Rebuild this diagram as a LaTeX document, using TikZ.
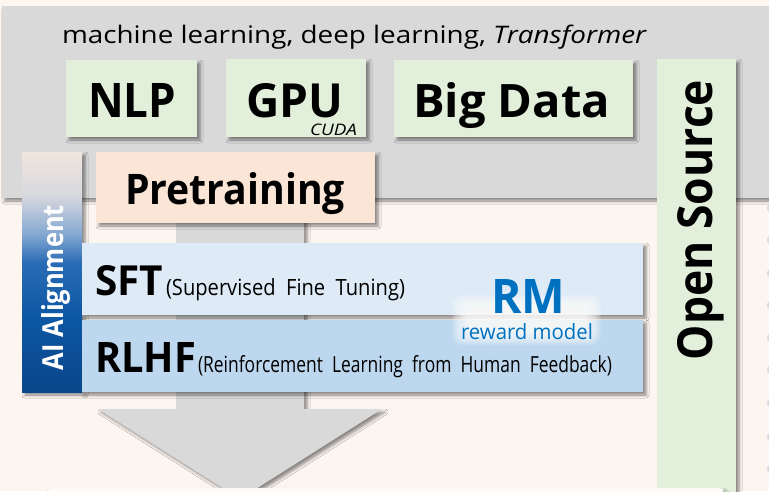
\documentclass[tikz,border=0pt]{standalone}
\usepackage{fontspec}
\setmainfont{Open Sans}
\usepackage{graphicx}
\usetikzlibrary{shadows.blur}

\definecolor{bgcream}{HTML}{FCF5F0}
\definecolor{bandgray}{HTML}{D9D9D9}
\definecolor{techgreen}{HTML}{E2EFDA}
\definecolor{prepeach}{HTML}{FBE5D6}
\definecolor{sftblue}{HTML}{DEEBF7}
\definecolor{rlhfblue}{HTML}{BDD7EE}
\definecolor{rmblue}{HTML}{0070C0}
\definecolor{basewhite}{HTML}{FEFBF9}
\definecolor{dotblue}{HTML}{D3DCE8}
% colours of the alignment bar, bottom to top
\definecolor{alA}{HTML}{0A468A}
\definecolor{alB}{HTML}{0C56A2}
\definecolor{alC}{HTML}{2A6CB6}
\definecolor{alD}{HTML}{86A9D2}
\definecolor{alE}{HTML}{D8D8DE}
\definecolor{alF}{HTML}{F0E5DE}

\pgfdeclareverticalshading{alignshade}{100bp}{%
  color(0bp)=(alA); color(25bp)=(alA); color(40bp)=(alB);
  color(52bp)=(alC); color(58bp)=(alD); color(66bp)=(alE);
  color(75bp)=(alF); color(100bp)=(alF)}

% scale a text to a given width and height (in pt)
\newcommand\fitbox[3]{\resizebox{#1pt}{#2pt}{#3}}

\tikzset{
  softshadow/.style={blur shadow={shadow xshift=3pt, shadow yshift=-3pt,
      shadow blur radius=3pt, shadow opacity=45}},
  panel/.style={rectangle, inner sep=0pt, outer sep=0pt, anchor=north west, softshadow},
  greenpanel/.style={panel, fill=techgreen},
  lbl/.style={inner sep=0pt, outer sep=0pt, anchor=base west},
}

\begin{document}
\begin{tikzpicture}[x=1pt, y=-1pt]
\clip (0,0) rectangle (769,491);
\fill[bgcream] (0,0) rectangle (769,491);

% faint marks at the right edge
\foreach \yy in {208,240,273,305,338,370,403,437,469}
  \fill[dotblue] (770,\yy) ellipse (3 and 4);

% grey foundation band
\node[panel, fill=bandgray, minimum width=790pt, minimum height=192pt] (band) at (2,6) {};

% big downward arrow
\path[fill=bandgray, softshadow]
  (176,200) -- (304,200) -- (304,409) -- (382,409) -- (240,499)
  -- (98,409) -- (176,409) -- cycle;

% open source column
\node[greenpanel, minimum width=79pt, minimum height=450pt] (osbox) at (657,59) {};

% technology boxes
\node[greenpanel, minimum width=131pt, minimum height=77pt] (nlpbox) at (66,60) {};
\node[greenpanel, minimum width=140pt, minimum height=78pt] (gpubox) at (226,59) {};
\node[greenpanel, minimum width=239pt, minimum height=77pt] (bigbox) at (394,60) {};

% pretraining
\node[panel, fill=prepeach, minimum width=279pt, minimum height=71pt] (prebox) at (96,152) {};

% AI alignment bar
\node[panel, shading=alignshade, minimum width=60pt, minimum height=240pt] (alignbar) at (22,152) {};

% fine-tuning stages
\node[panel, fill=sftblue, minimum width=561pt, minimum height=72pt] (sftbox) at (82,243) {};
\node[panel, fill=rlhfblue, minimum width=561pt, minimum height=72pt] (rlhfbox) at (82,320) {};

% soft white glow behind the reward model
\foreach \k in {0,...,16}
  \fill[white, fill opacity=0.1, rounded corners=10pt]
    (468-\k, 309-0.9*\k) rectangle (585+\k, 331+0.9*\k);

% base of the next stage
\node[panel, fill=basewhite, draw=black!10, rounded corners=3pt,
      minimum width=676pt, minimum height=40pt] (basebox) at (47,488) {};

% texts
\node[lbl] (mltxt) at (62,43)
  {\fitbox{585}{18.5}{machine learning, deep learning, \textit{Transformer}}};
\node[lbl] (nlptxt) at (88,117) {\fitbox{88}{34}{\bfseries NLP}};
\node[lbl] (gputxt) at (246,117) {\fitbox{97}{34}{\bfseries GPU}};
\node[lbl] (cudatxt) at (310,135) {\fitbox{47}{11.5}{\itshape CUDA}};
\node[lbl] (bigtxt) at (413,117) {\fitbox{197}{35}{\bfseries Big Data}};
\node[lbl] (pretxt) at (125,204) {\fitbox{220}{32}{\bfseries Pretraining}};
\node[lbl] (sfttxt) at (95,295) {\fitbox{68}{30}{\bfseries SFT}};
\node[lbl] (sftsub) at (166,295) {\fitbox{239}{17}{(Supervised\ \ Fine\ \ Tuning)}};
\node[lbl] (rlhftxt) at (95,372) {\fitbox{101}{30}{\bfseries RLHF}};
\node[lbl] (rlhfsub) at (198,372)
  {\fitbox{414}{17}{(Reinforcement\ \ Learning\ \ from\ \ Human\ \ Feedback)}};
\node[lbl, text=rmblue] (rmtxt) at (491,313) {\fitbox{74}{34}{\bfseries RM}};
\node[lbl, text=rmblue] (rmsub) at (461,339) {\fitbox{132}{16}{reward model}};
\node[lbl, rotate=90] (ostxt) at (712,360) {\fitbox{280}{35}{\bfseries Open Source}};
\node[lbl, rotate=90, text=white] (aligntxt) at (63,370)
  {\fitbox{165}{22}{\bfseries AI Alignment}};
\end{tikzpicture}
\end{document}
